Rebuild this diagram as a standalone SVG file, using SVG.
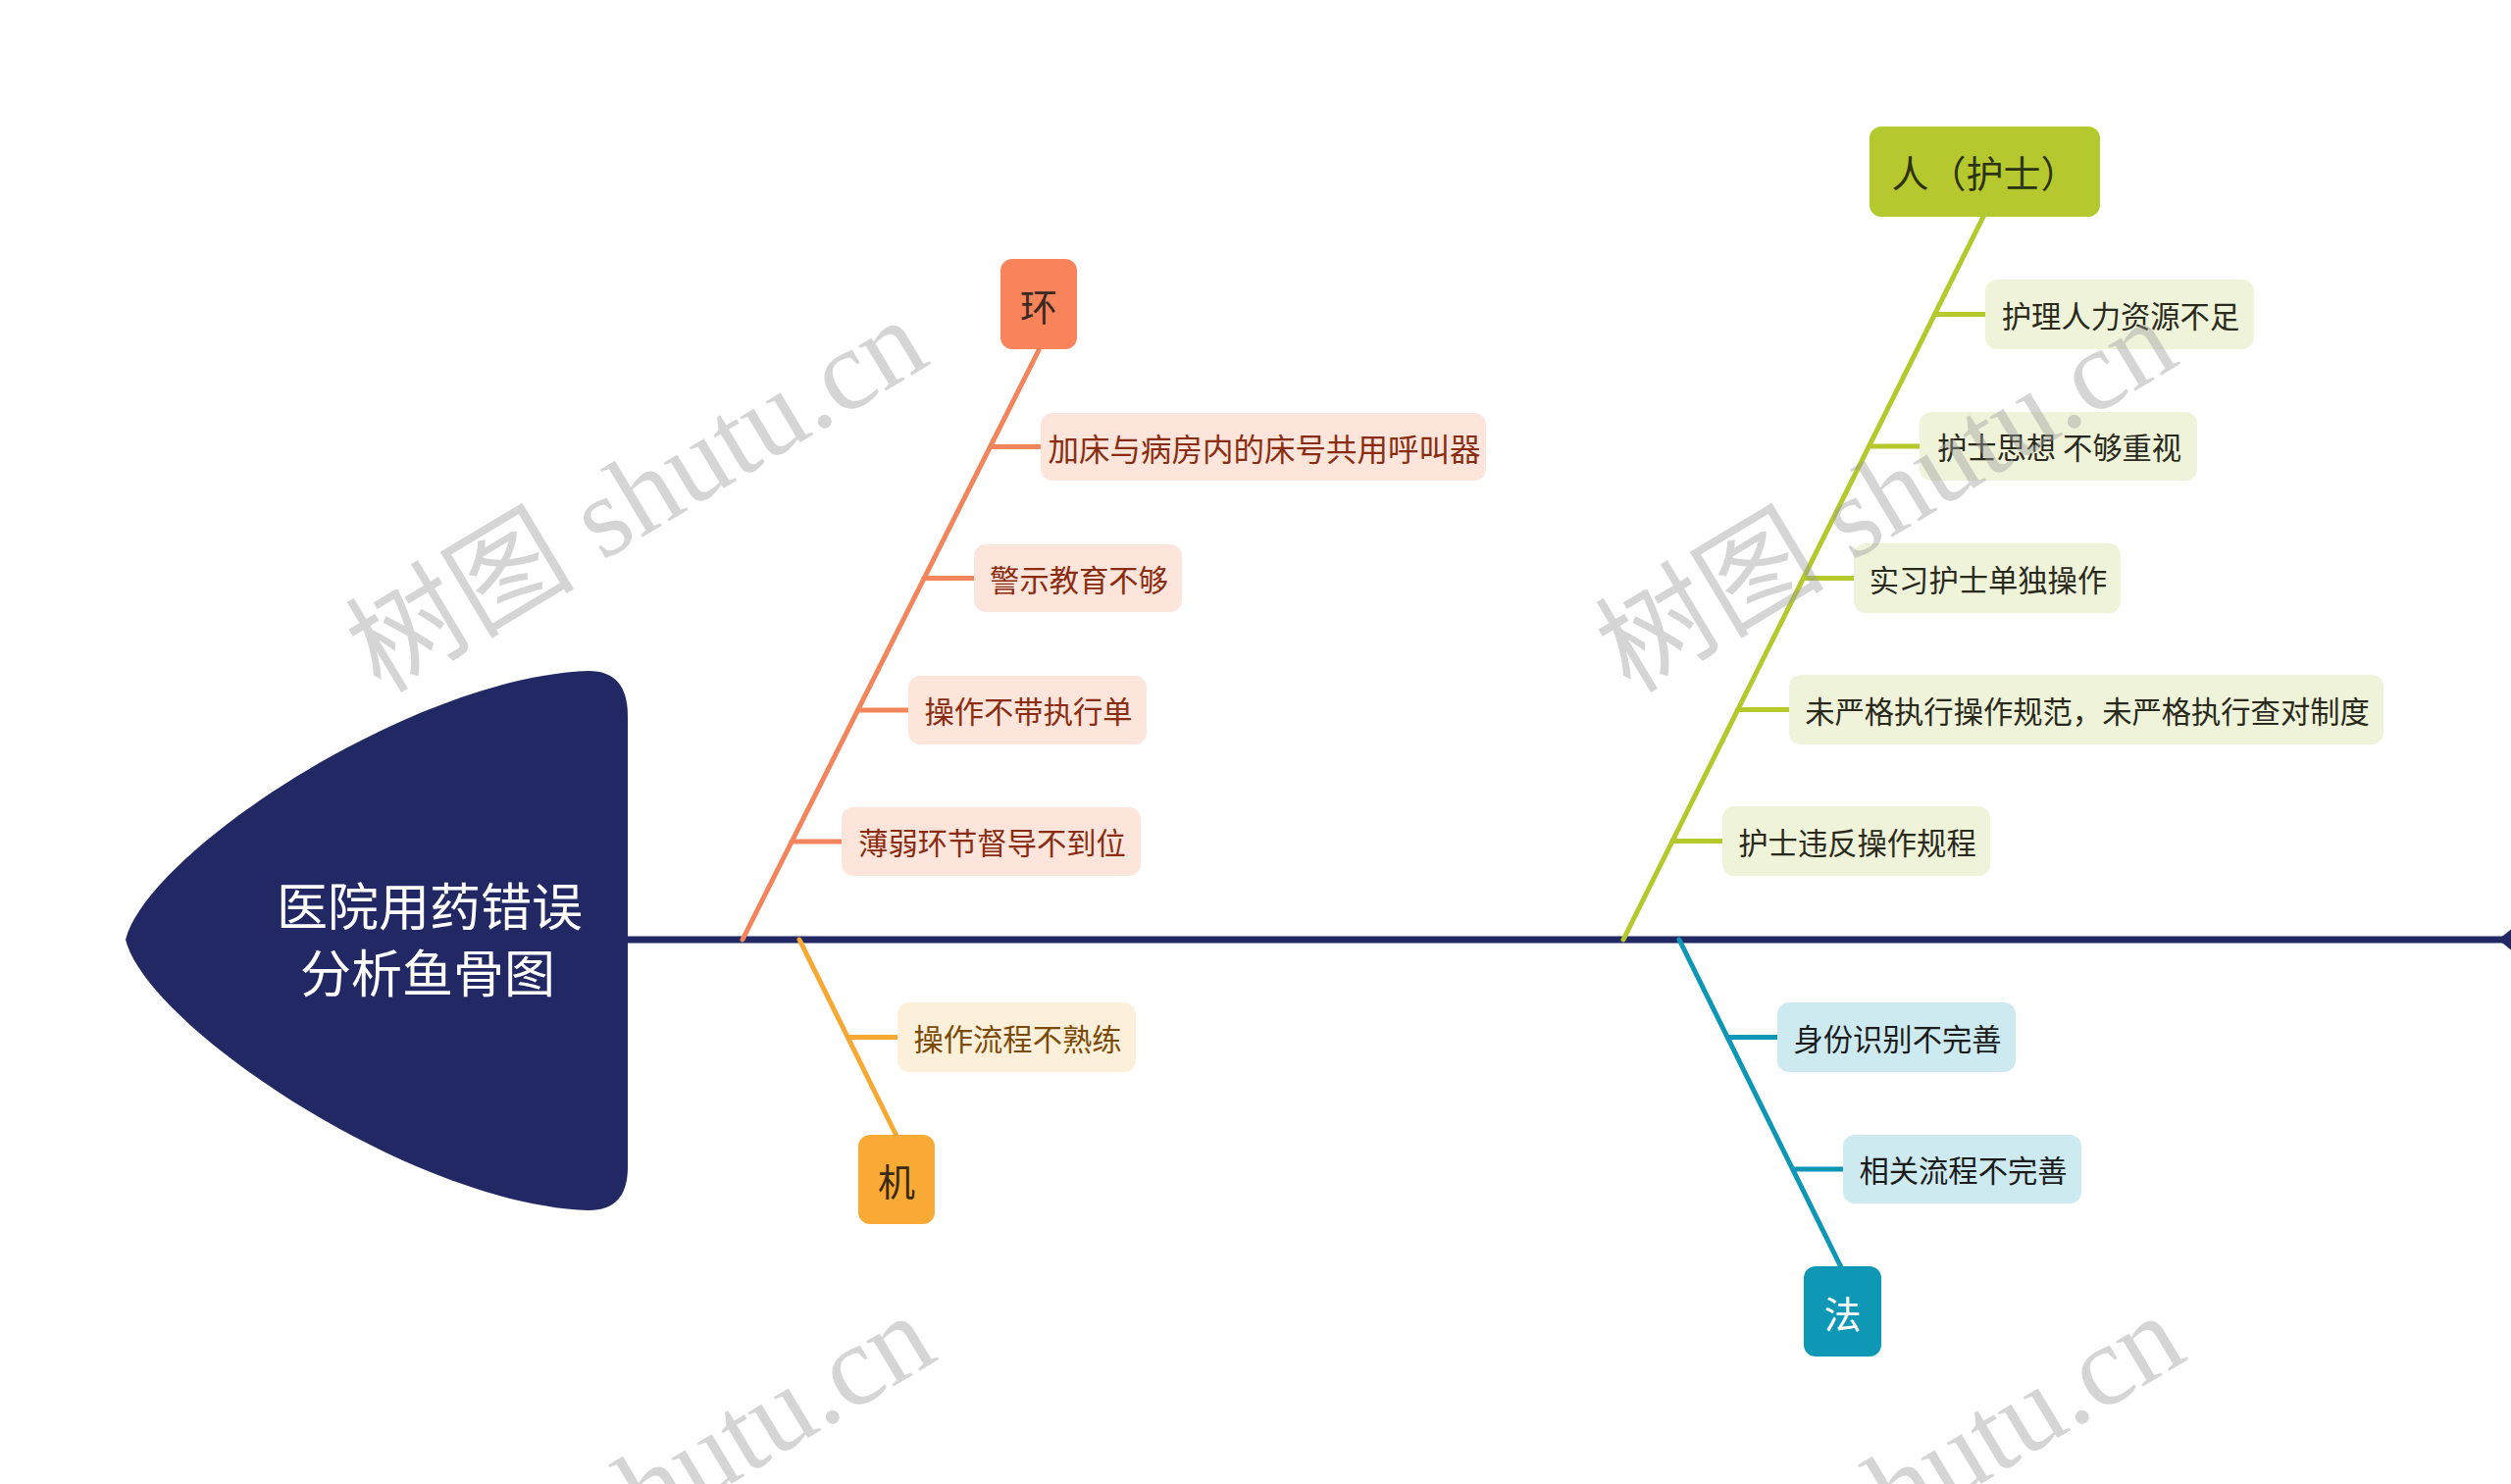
<svg xmlns="http://www.w3.org/2000/svg" width="2560" height="1513" viewBox="0 0 2560 1513">
<style>
.t{font-family:"Noto Sans CJK SC","Noto Sans",sans-serif;dominant-baseline:central;text-anchor:middle}
.s{font-size:30.3px}
.c{font-size:38px}
.box{rx:12px;ry:12px}
.o{stroke:#f2855b;stroke-width:5;fill:none;stroke-linecap:round}
.y{stroke:#f8a934;stroke-width:5;fill:none;stroke-linecap:round}
.g{stroke:#b5c82c;stroke-width:5;fill:none;stroke-linecap:round}
.b{stroke:#0e96b5;stroke-width:5;fill:none;stroke-linecap:round}
.wm{font-family:"Liberation Serif","Noto Sans CJK SC",serif;font-size:117px;fill:#9a9a9a;fill-opacity:0.42}
</style>
<rect width="2560" height="1513" fill="#ffffff"/>

<g id="connectors">
  <line x1="640" y1="958" x2="2552" y2="958" stroke="#212864" stroke-width="7"/>
  <polygon points="2547,958 2562,946 2577,958 2562,970" fill="#212864"/>
  <line class="o" x1="757" y1="958" x2="1059" y2="357"/>
  <line class="o" x1="1009.5" y1="455.5" x2="1062" y2="455.5"/>
  <line class="o" x1="942" y1="589.5" x2="994" y2="589.5"/>
  <line class="o" x1="874.6" y1="724" x2="927" y2="724"/>
  <line class="o" x1="807" y1="858" x2="859" y2="858"/>
  <line class="y" x1="815" y1="958" x2="914" y2="1158"/>
  <line class="y" x1="864.5" y1="1057.5" x2="916" y2="1057.5"/>
  <line class="g" x1="1655" y1="958" x2="2022" y2="221"/>
  <line class="g" x1="1972.4" y1="320.5" x2="2025" y2="320.5"/>
  <line class="g" x1="1905.5" y1="455" x2="1958" y2="455"/>
  <line class="g" x1="1838.5" y1="589.5" x2="1891" y2="589.5"/>
  <line class="g" x1="1771.8" y1="723.5" x2="1825" y2="723.5"/>
  <line class="g" x1="1705" y1="857.5" x2="1757" y2="857.5"/>
  <line class="b" x1="1712" y1="958" x2="1877" y2="1292"/>
  <line class="b" x1="1761.3" y1="1057.5" x2="1813" y2="1057.5"/>
  <line class="b" x1="1828" y1="1192" x2="1880" y2="1192"/>
</g>

<g id="head">
  <path d="M 128,958 C 150,870 420,690 600,684 Q 640,684 640,730 L 640,1190 Q 640,1234 600,1234 C 420,1228 150,1046 128,958 Z" fill="#212864"/>
  <text class="t" x="438" y="921" font-size="52" fill="#ffffff">医院用药错误</text>
  <text class="t" x="436" y="989" font-size="52" fill="#ffffff">分析鱼骨图</text>
</g>

<g id="huan">
  <rect class="box" x="1020" y="264" width="78" height="92" fill="#f9835a"/>
  <text class="t c" x="1059" y="310" fill="#3b2a22">环</text>
</g>
<g id="huan-1">
  <rect class="box" x="1061" y="421" width="454" height="69" fill="#fde5dc"/>
  <text class="t" x="1289" y="455.5" font-size="31.5" fill="#8a2c0f">加床与病房内的床号共用呼叫器</text>
</g>
<g id="huan-2">
  <rect class="box" x="993" y="555" width="212" height="69" fill="#fde5dc"/>
  <text class="t s" x="1100" y="589.5" fill="#8a2c0f">警示教育不够</text>
</g>
<g id="huan-3">
  <rect class="box" x="926" y="689" width="243" height="70" fill="#fde5dc"/>
  <text class="t s" x="1048.5" y="724" fill="#8a2c0f">操作不带执行单</text>
</g>
<g id="huan-4">
  <rect class="box" x="858" y="823" width="305" height="70" fill="#fde5dc"/>
  <text class="t s" x="1011.5" y="858" fill="#8a2c0f">薄弱环节督导不到位</text>
</g>

<g id="ji">
  <rect class="box" x="875" y="1157" width="78" height="91" fill="#f9aa35"/>
  <text class="t c" x="914" y="1202.5" fill="#3a2a12">机</text>
</g>
<g id="ji-1">
  <rect class="box" x="915" y="1022" width="243" height="71" fill="#fdf0da"/>
  <text class="t s" x="1037.5" y="1057.5" fill="#7b4a06">操作流程不熟练</text>
</g>

<g id="ren">
  <rect class="box" x="1906" y="129" width="235" height="92" fill="#b5c92e"/>
  <text class="t c" x="2023.5" y="174" fill="#2d3310">人（护士）</text>
</g>
<g id="ren-1">
  <rect class="box" x="2024" y="285" width="274" height="71" fill="#eff3d9"/>
  <text class="t s" x="2162" y="320.5" fill="#2a2a1c">护理人力资源不足</text>
</g>
<g id="ren-2">
  <rect class="box" x="1957" y="420" width="283" height="70" fill="#eff3d9"/>
  <text class="t s" x="2099.5" y="455" fill="#2a2a1c">护士思想 不够重视</text>
</g>
<g id="ren-3">
  <rect class="box" x="1890" y="554" width="272" height="71" fill="#eff3d9"/>
  <text class="t s" x="2027" y="589.5" fill="#2a2a1c">实习护士单独操作</text>
</g>
<g id="ren-4">
  <rect class="box" x="1824" y="688" width="606" height="71" fill="#eff3d9"/>
  <text class="t s" x="2128" y="723.5" fill="#2a2a1c">未严格执行操作规范，未严格执行查对制度</text>
</g>
<g id="ren-5">
  <rect class="box" x="1756" y="822" width="273" height="71" fill="#eff3d9"/>
  <text class="t s" x="1893.5" y="857.5" fill="#2a2a1c">护士违反操作规程</text>
</g>

<g id="fa">
  <rect class="box" x="1839" y="1291" width="79" height="92" fill="#0f97b6"/>
  <text class="t c" x="1878.5" y="1337" fill="#ffffff">法</text>
</g>
<g id="fa-1">
  <rect class="box" x="1812" y="1022" width="243" height="71" fill="#cdeaf1"/>
  <text class="t s" x="1934.5" y="1057.5" fill="#1c1c1c">身份识别不完善</text>
</g>
<g id="fa-2">
  <rect class="box" x="1879" y="1157" width="243" height="70" fill="#cdeaf1"/>
  <text class="t s" x="2001.5" y="1192" fill="#1c1c1c">相关流程不完善</text>
</g>

<g id="watermarks">
  <text class="wm" transform="translate(388,708) rotate(-31)">树图 shutu.cn</text>
  <text class="wm" transform="translate(1662,708) rotate(-31)">树图 shutu.cn</text>
  <text class="wm" transform="translate(396,1723) rotate(-31)">树图 shutu.cn</text>
  <text class="wm" transform="translate(1670,1723) rotate(-31)">树图 shutu.cn</text>
</g>
</svg>
